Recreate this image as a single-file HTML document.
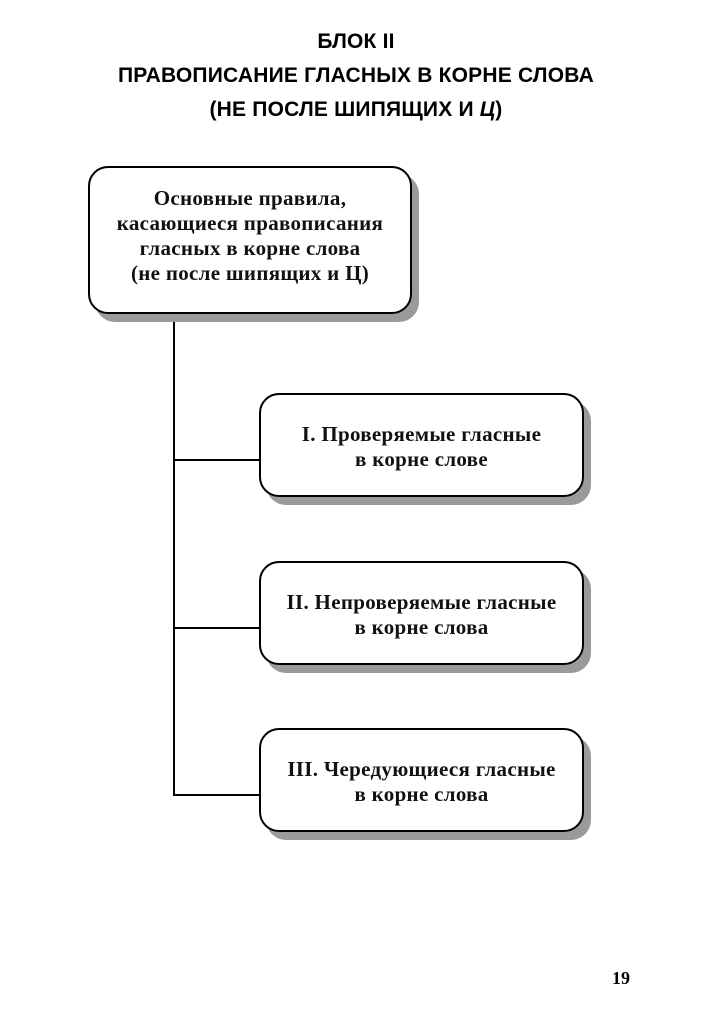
<!DOCTYPE html>
<html><head><meta charset="utf-8"><style>
body{margin:0;width:712px;height:1024px;background:#fff;position:relative;overflow:hidden}
.t{position:absolute;left:0;width:712px;text-align:center;font-family:"Liberation Sans","DejaVu Sans",sans-serif;font-weight:bold;font-size:21px;color:#000;letter-spacing:0.2px}
.box{position:absolute;border:2px solid #000;border-radius:20px;background:#fff;box-shadow:7px 8px 0 #9a9a9a;display:flex;align-items:center;justify-content:center;text-align:center;font-family:"Liberation Serif",serif;font-weight:bold;font-size:21px;line-height:25px;color:#111;letter-spacing:0.3px}
.l{position:absolute;background:#000}
</style></head><body>
<div class="t" style="top:30px">БЛОК II</div>
<div class="t" style="top:64px">ПРАВОПИСАНИЕ ГЛАСНЫХ В КОРНЕ СЛОВА</div>
<div class="t" style="top:98px">(НЕ ПОСЛЕ ШИПЯЩИХ И <i>Ц</i>)</div>

<div class="l" style="left:173px;top:312px;width:2px;height:484px"></div>
<div class="l" style="left:173px;top:459px;width:88px;height:2px"></div>
<div class="l" style="left:173px;top:627px;width:88px;height:2px"></div>
<div class="l" style="left:173px;top:794px;width:88px;height:2px"></div>

<div class="box" style="left:88px;top:166px;width:320px;height:136px;padding-bottom:8px">Основные правила,<br>касающиеся правописания<br>гласных в корне слова<br>(не после шипящих и Ц)</div>
<div class="box" style="left:259px;top:393px;width:321px;height:96px;padding-top:4px">I. Проверяемые гласные<br>в корне слове</div>
<div class="box" style="left:259px;top:561px;width:321px;height:96px;padding-top:4px">II. Непроверяемые гласные<br>в корне слова</div>
<div class="box" style="left:259px;top:728px;width:321px;height:96px;padding-top:4px">III. Чередующиеся гласные<br>в корне слова</div>

<div style="position:absolute;left:612px;top:968px;font-family:'Liberation Serif',serif;font-weight:bold;font-size:18px">19</div>
</body></html>
